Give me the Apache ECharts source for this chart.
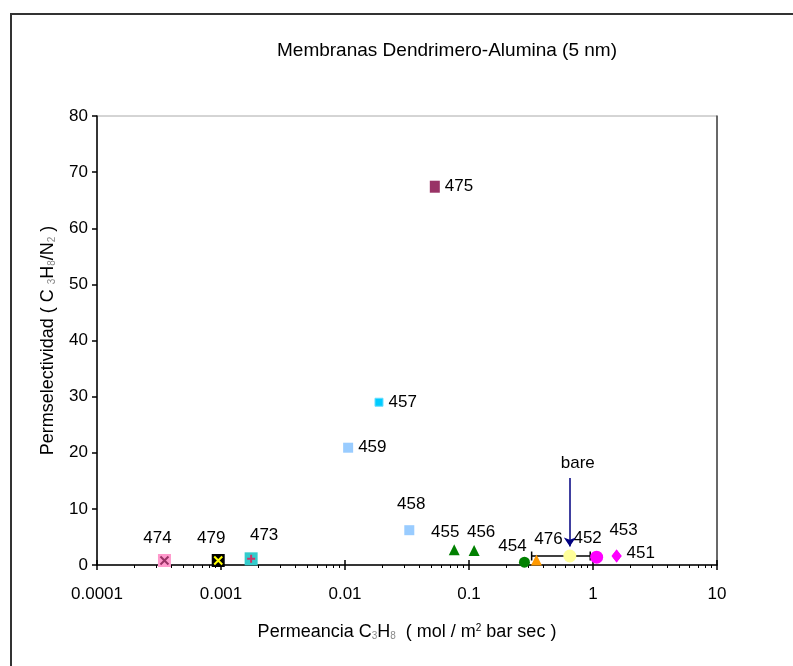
<!DOCTYPE html>
<html><head><meta charset="utf-8">
<script src="https://cdn.jsdelivr.net/npm/echarts@6/dist/echarts.min.js"></script>
<style>html,body{margin:0;padding:0;background:#fff}#c{width:793px;height:666px}</style>
</head><body><div id="c"></div>
<script>
// ---- data ----
const ids         = ['474', '479', '473', '458', '459', '457', '475', '455', '456', '454', '476', 'bare', '452', '453', '451'];
const permeance   = [0.00035, 0.00095, 0.00175, 0.033, 0.0106, 0.0188, 0.053, 0.076, 0.11, 0.28, 0.35, 0.65, 1.07, 1.55, 1.55];
const selectivity = [0.8, 0.8, 1.1, 6.2, 20.9, 29.0, 67.4, 2.7, 2.6, 0.5, 0.9, 1.6, 1.4, 1.6, 1.6];
const bareRange   = [0.32, 0.95];          // horizontal bar through "bare"
const bareArrow   = [15.5, 3.3];           // arrow from / to (selectivity)
const xTicks      = [0.0001, 0.001, 0.01, 0.1, 1, 10];
const yTicks      = [0, 10, 20, 30, 40, 50, 60, 70, 80];

// ---- styles ----
const FF = "'Liberation Sans', Arial, sans-serif";
const X_PATH = 'path://M0,0L10,10M10,0L0,10';
const P_PATH = 'path://M5,0L5,10M0,5L10,5';
const style = {
  '474': {symbol:'rect', size:13, color:'#ff99cc', cross:X_PATH, crossColor:'#993366', pos:'top', off:[-7,-2]},
  '479': {symbol:'rect', size:13, color:'#000000', cross:X_PATH, crossColor:'#ffff00', pos:'top', off:[-7,-2]},
  '473': {symbol:'rect', size:13, color:'#33cccc', cross:P_PATH, crossColor:'#cc3366', pos:'top', off:[13,-4]},
  '458': {symbol:'rect', size:10, color:'#99ccff', pos:'top', off:[2,-7]},
  '459': {symbol:'rect', size:10, color:'#99ccff', pos:'right', off:[0,0]},
  '457': {symbol:'rect', size:8, color:'#00ccff', border:'#66ddff', pos:'right', off:[0,0]},
  '475': {symbol:'rect', size:[10,12], color:'#993366', pos:'right', off:[0,0]},
  '455': {symbol:'triangle', size:11, color:'#008000', pos:'top', off:[-9,1]},
  '456': {symbol:'triangle', size:11, color:'#008000', pos:'top', off:[7,1]},
  '454': {symbol:'circle', size:11, color:'#008000', pos:'top', off:[-12,3]},
  '476': {symbol:'triangle', size:11, color:'#ff9900', pos:'top', off:[12,-2]},
  'bare':{symbol:'circle', size:13, color:'#ffff99', nolabel:true},
  '452': {symbol:'circle', size:13, color:'#ff00ff', pos:'top', off:[-9,1]},
  '453': {symbol:'diamond', size:[10,13], color:'#ff00ff', pos:'top', off:[7,-6]},
  '451': {symbol:'diamond', size:[10,13], color:'#ff00ff', pos:'right', off:[0,-3]}
};

const series = [];
const bareIdx = ids.indexOf('bare');
const bareX = permeance[bareIdx], bareY = selectivity[bareIdx];

series.push({
  type:'line', data:[[bareRange[0], bareY], [bareRange[1], bareY]],
  symbol:'rect', symbolSize:[1.5, 9], showSymbol:true,
  itemStyle:{color:'#000'}, lineStyle:{color:'#000', width:1.5},
  z:2, silent:true, emphasis:{disabled:true}
});

ids.forEach((id, i) => {
  const s = style[id];
  series.push({
    type:'scatter', name:id, data:[[permeance[i], selectivity[i]]],
    symbol:s.symbol, symbolSize:s.size,
    itemStyle:{color:s.color, borderColor:s.border || s.color, borderWidth:s.border ? 1 : 0, opacity:1},
    label:{show:!s.nolabel, formatter:id, position:s.pos || 'right', offset:s.off || [0,0], distance:5,
           color:'#000', fontSize:17, fontFamily:FF},
    z:3, emphasis:{disabled:true}, silent:true
  });
  if (s.cross) {
    series.push({
      type:'scatter', data:[[permeance[i], selectivity[i]]],
      symbol:s.cross, symbolSize:8,
      itemStyle:{color:'none', borderColor:s.crossColor, borderWidth:2, opacity:1},
      z:4, emphasis:{disabled:true}, silent:true
    });
  }
});

series.push({
  type:'lines', coordinateSystem:'cartesian2d',
  data:[{coords:[[bareX, bareArrow[0]], [bareX, bareArrow[1]]]}],
  symbol:['none','arrow'], symbolSize:9,
  lineStyle:{color:'#000080', width:1.5, opacity:1, curveness:0},
  label:{show:true, position:'start', formatter:'bare', distance:6, offset:[8,0],
         color:'#000', fontSize:17, fontFamily:FF, opacity:1},
  z:5, silent:true
});

const fmt = v => String(Number(Number(v).toPrecision(3)));

const chart = echarts.init(document.getElementById('c'), null, {renderer:'canvas'});
chart.setOption({
  animation:false,
  backgroundColor:'#ffffff',
  title:{text:'Membranas Dendrimero-Alumina (5 nm)', left:272, top:36,
         textStyle:{fontSize:19, fontWeight:'normal', color:'#000', fontFamily:FF}},
  graphic:[{type:'rect', shape:{x:11, y:14, width:800, height:700},
            style:{fill:'none', stroke:'#333', lineWidth:2}, silent:true}],
  grid:{left:97, right:76, top:116, bottom:101, show:true, borderColor:'#aaa', borderWidth:1, backgroundColor:'transparent'},
  xAxis:[{
    type:'log', logBase:10, min:xTicks[0], max:xTicks[xTicks.length-1],
    axisLine:{show:true, lineStyle:{color:'#000', width:1.5}},
    axisTick:{show:true, inside:false, length:5, lineStyle:{color:'#000', width:1.5}},
    minorTick:{show:true, splitNumber:9, length:3, lineStyle:{color:'#000', width:1}},
    splitLine:{show:false},
    axisLabel:{formatter:fmt, color:'#000', fontSize:17, fontFamily:FF, margin:21},
    name:'Permeancia C{sub|3}H{sub|8}  ( mol / m{sup|2} bar sec )', nameLocation:'middle', nameGap:58,
    nameTextStyle:{color:'#000', fontSize:18, fontFamily:FF,
      rich:{sub:{fontSize:10, verticalAlign:'bottom', color:'#888', padding:[7,0,0,0]},
            sup:{fontSize:10, verticalAlign:'top', color:'#000', padding:[0,0,7,0]}}}
  },{
    type:'log', logBase:10, min:xTicks[0], max:xTicks[xTicks.length-1], position:'bottom',
    axisLine:{show:false}, axisLabel:{show:false}, splitLine:{show:false},
    axisTick:{show:true, inside:true, length:5, lineStyle:{color:'#000', width:1.5}}
  }],
  yAxis:[{
    type:'value', min:yTicks[0], max:yTicks[yTicks.length-1], interval:10,
    axisLine:{show:true, lineStyle:{color:'#000', width:1.5}},
    axisTick:{show:true, inside:false, length:5, lineStyle:{color:'#000', width:1.5}},
    splitLine:{show:false},
    axisLabel:{color:'#000', fontSize:17, fontFamily:FF, margin:9},
    name:'Permselectividad ( C {sub|3}H{sub|8}/N{sub|2} )', nameLocation:'middle', nameGap:40, nameRotate:90,
    nameTextStyle:{color:'#000', fontSize:18, fontFamily:FF,
      rich:{sub:{fontSize:10, color:'#888', verticalAlign:'bottom'}}}
  },{
    type:'value', min:yTicks[0], max:yTicks[yTicks.length-1], interval:10, position:'right',
    axisLine:{show:true, lineStyle:{color:'#444', width:1.5}},
    axisTick:{show:false}, axisLabel:{show:false}, splitLine:{show:false}
  }],
  series:series
});
</script></body></html>
